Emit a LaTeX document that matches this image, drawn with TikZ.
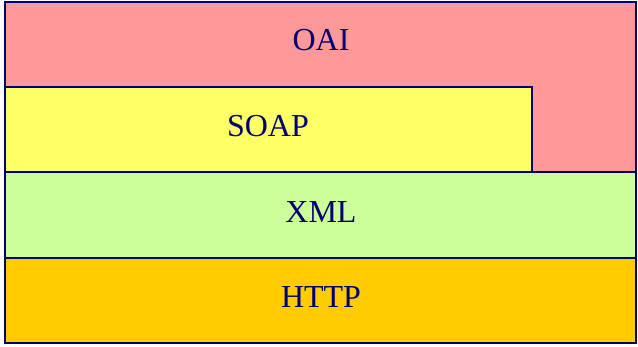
\documentclass[tikz,border=0pt]{standalone}
\usepackage{fontspec}
\setmainfont{Liberation Serif}
\usetikzlibrary{positioning}
\definecolor{oaipink}{HTML}{FF9999}
\definecolor{soapyellow}{HTML}{FFFF66}
\definecolor{xmlgreen}{HTML}{CCFF99}
\definecolor{httporange}{HTML}{FFCC00}
\definecolor{edgenavy}{HTML}{000070}
\tikzset{
    layer/.style={draw=edgenavy, line width=2.6pt},
    layertext/.style={text=edgenavy, font=\fontsize{32}{36}\selectfont, inner sep=0pt}
}

\begin{document}
\begin{tikzpicture}[x=1pt,y=-1pt]

\useasboundingbox (0,0) rectangle (638,347);

% OAI layer (L-shaped, wraps round SOAP)
\draw[layer, fill=oaipink] (5,2) -- (636,2) -- (636,172) -- (532,172) -- (532,87) -- (5,87) -- cycle;
\node[layertext] (oai) at (321,40) {OAI};

% SOAP layer
\draw[layer, fill=soapyellow] (5,87) rectangle (532,172);
\node[layertext] (soap) at (268,126) {SOAP};

% XML layer
\draw[layer, fill=xmlgreen] (5,172) rectangle (636,258);
\node[layertext] (xml) at (321,212) {XML};

% HTTP layer
\draw[layer, fill=httporange] (5,258) rectangle (636,343);
\node[layertext] (http) at (321,297) {HTTP};

\end{tikzpicture}
\end{document}
